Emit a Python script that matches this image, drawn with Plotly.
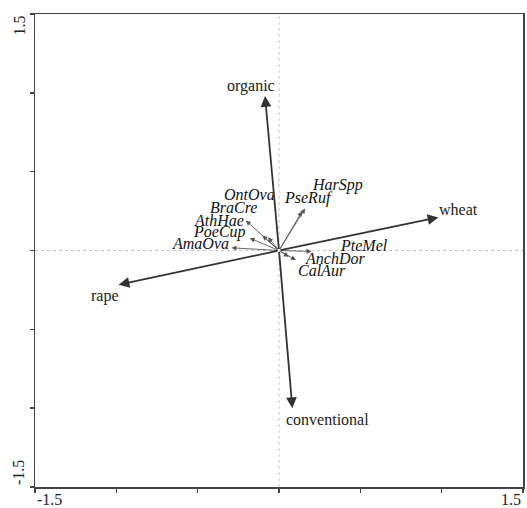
import plotly.graph_objects as go

# Environmental variables (biplot arrows)
env_names = ["organic", "conventional", "wheat", "rape"]
env_x = [-0.086, 0.082, 0.98, -0.986]
env_y = [0.98, -1.0, 0.21, -0.217]

# Species arrows
sp_names = ["HarSpp", "PseRuf", "OntOva", "BraCre", "AthHae", "PoeCup",
            "AmaOva", "PteMel", "AnchDor", "CalAur"]
sp_x = [0.16, 0.141, -0.067, -0.102, -0.204, -0.18, -0.292, 0.2, 0.104, 0.06]
sp_y = [0.266, 0.247, 0.084, 0.095, 0.19, 0.078, 0.017, -0.006, -0.06, -0.04]

# Axis extents and ticks
axis_min, axis_max = -1.5, 1.5
tick_vals = [-1.5, -1.0, -0.5, 0.0, 0.5, 1.0, 1.5]
tick_labels = ["-1.5", "1.5"]

# label offsets in pixels (layout only)
env_off = [(-14, 10), (35, -11), (20, 8), (-14, -11)]
sp_off = [(32, 24), (7, 14), (-19, 43), (-29, 28), (-27, 0), (-30, 6),
          (-31, 4), (52, 6), (39, 1), (33, -14)]

SERIF = "Liberation Serif, Times New Roman, serif"
DARK = "#333333"

fig = go.Figure()
fig.add_trace(go.Scatter(x=[axis_min, axis_max], y=[axis_min, axis_max],
                         mode="markers", marker=dict(opacity=0),
                         hoverinfo="skip", showlegend=False))

# zero reference lines
fig.add_shape(type="line", xref="x", yref="y", x0=0, x1=0, y0=axis_min, y1=axis_max,
              line=dict(color="#c4c4c4", width=1, dash="dot"), layer="below")
fig.add_shape(type="line", xref="x", yref="y", x0=axis_min, x1=axis_max, y0=0, y1=0,
              line=dict(color="#c4c4c4", width=1, dash="dot"), layer="below")

ann = []
# species arrows (thin)
for n, x, y, (dx, dy) in zip(sp_names, sp_x, sp_y, sp_off):
    ann.append(dict(x=x, y=y, ax=0, ay=0, xref="x", yref="y", axref="x", ayref="y",
                    text="", showarrow=True, arrowhead=2, arrowsize=1.1,
                    arrowwidth=0.9, arrowcolor="#555555", standoff=0, startstandoff=0))
    ann.append(dict(x=x, y=y, xref="x", yref="y", text="<i>" + n + "</i>",
                    showarrow=False, xshift=dx, yshift=dy,
                    font=dict(family=SERIF, size=16, color="#111111"),
                    xanchor="center", yanchor="middle"))
# environmental arrows (bold)
for n, x, y, (dx, dy) in zip(env_names, env_x, env_y, env_off):
    ann.append(dict(x=x, y=y, ax=0, ay=0, xref="x", yref="y", axref="x", ayref="y",
                    text="", showarrow=True, arrowhead=2, arrowsize=1.2,
                    arrowwidth=1.8, arrowcolor=DARK, standoff=0, startstandoff=0))
    ann.append(dict(x=x, y=y, xref="x", yref="y", text=n, showarrow=False,
                    xshift=dx, yshift=dy,
                    font=dict(family=SERIF, size=16, color="#222222"),
                    xanchor="center", yanchor="middle"))

# tick labels at axis extremes
ann.append(dict(x=axis_min, y=0, xref="x", yref="paper", text=tick_labels[0],
                showarrow=False, xanchor="left", yanchor="top", yshift=-2,
                font=dict(family=SERIF, size=16, color="#222222")))
ann.append(dict(x=axis_max, y=0, xref="x", yref="paper", text=tick_labels[1],
                showarrow=False, xanchor="right", yanchor="top", yshift=-2,
                font=dict(family=SERIF, size=16, color="#222222")))
ann.append(dict(x=0, y=axis_max, xref="paper", yref="y", text=tick_labels[1],
                showarrow=False, textangle=-90, xanchor="right", yanchor="top",
                xshift=-6, font=dict(family=SERIF, size=16, color="#222222")))
ann.append(dict(x=0, y=axis_min, xref="paper", yref="y", text=tick_labels[0],
                showarrow=False, textangle=-90, xanchor="right", yanchor="bottom",
                xshift=-6, font=dict(family=SERIF, size=16, color="#222222")))

axis_common = dict(range=[axis_min, axis_max], showgrid=False, zeroline=False,
                   showline=True, linecolor="#444444", linewidth=1.5, mirror=True,
                   ticks="outside", ticklen=4, tickwidth=1.5, tickcolor="#444444",
                   tickvals=tick_vals, showticklabels=False, fixedrange=True)

fig.update_layout(
    width=527, height=508,
    margin=dict(l=35, r=2, t=14, b=21),
    plot_bgcolor="white", paper_bgcolor="white",
    xaxis=axis_common, yaxis=axis_common,
    annotations=ann, showlegend=False,
)

fig.write_html("out.html",
               config={"displayModeBar": False, "staticPlot": True},
               post_script="document.body.style.margin='0';"
                           "document.body.style.overflow='hidden';")
